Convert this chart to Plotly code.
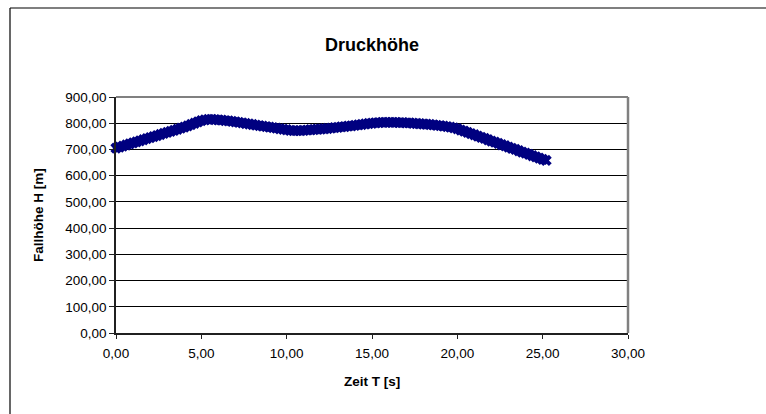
import plotly.graph_objects as go

# Fallhöhe über der Zeit, Messpunkte alle 0,2 s
zeit_s = [round(i * 0.2, 1) for i in range(127)]
fallhoehe_m = [
    705, 709, 713, 717, 721, 725, 729, 733, 737, 741,
    745, 749, 753, 757, 761, 765, 769, 773, 777, 781,
    785, 790, 795, 800, 805, 810, 813, 815, 815, 814,
    813, 812, 810, 809, 807, 805, 803, 801, 799, 797,
    795, 793, 791, 789, 787, 785, 783, 781, 779, 777,
    775, 773, 772, 772, 772, 773, 774, 775, 776, 777,
    778, 779, 780, 781, 783, 784, 786, 787, 789, 790,
    792, 794, 795, 797, 799, 800, 801, 802, 803, 803,
    803, 803, 803, 802, 802, 801, 801, 800, 799, 798,
    797, 796, 795, 794, 792, 791, 789, 787, 785, 782,
    779, 774, 770, 765, 760, 756, 751, 746, 742, 737,
    732, 728, 723, 718, 714, 709, 704, 700, 695, 690,
    686, 681, 676, 672, 667, 662, 658,
]

x_ticks = [0, 5, 10, 15, 20, 25, 30]
y_ticks = [0, 100, 200, 300, 400, 500, 600, 700, 800, 900]

FONT = "Liberation Sans, Arial, sans-serif"

fig = go.Figure()
fig.add_trace(go.Scatter(
    x=zeit_s,
    y=fallhoehe_m,
    mode="markers",
    marker=dict(symbol="x", size=10, color="#000080", line=dict(width=0)),
    showlegend=False,
    cliponaxis=False,
))

fig.update_layout(
    width=766,
    height=414,
    margin=dict(l=116, r=138, t=97, b=81),
    paper_bgcolor="white",
    plot_bgcolor="white",
    separators=",.",
    font=dict(family=FONT, size=13.5, color="black"),
    xaxis=dict(
        range=[0, 30],
        tickvals=x_ticks,
        tickformat=".2f",
        showgrid=False,
        zeroline=False,
        showline=True,
        linecolor="#202020",
        linewidth=1.5,
        ticks="outside",
        ticklen=4,
        tickcolor="#202020",
        ticklabelstandoff=3,
        tickfont=dict(size=13.5),
    ),
    yaxis=dict(
        range=[0, 900],
        tickvals=y_ticks,
        tickformat=".2f",
        showgrid=True,
        gridcolor="black",
        gridwidth=1,
        zeroline=False,
        showline=True,
        linecolor="#202020",
        linewidth=1.5,
        ticks="outside",
        ticklen=5,
        tickcolor="#202020",
        tickfont=dict(size=13.5),
    ),
    annotations=[
        dict(text="<b>Druckhöhe</b>", xref="paper", yref="paper",
             x=0.5, y=(333 - 45) / 236, xanchor="center", yanchor="middle",
             showarrow=False, font=dict(size=18, family=FONT)),
        dict(text="<b>Zeit T [s]</b>", xref="paper", yref="paper",
             x=0.5, y=(333 - 381) / 236, xanchor="center", yanchor="middle",
             showarrow=False, font=dict(size=13.5, family=FONT)),
        dict(text="<b>Fallhöhe H [m]</b>", xref="paper", yref="paper",
             x=(38 - 116) / 512, y=(333 - 215) / 236, xanchor="center",
             yanchor="middle", textangle=-90,
             showarrow=False, font=dict(size=13.5, family=FONT)),
    ],
    shapes=[
        # grauer Rahmen oben und rechts am Diagrammbereich
        dict(type="line", xref="paper", yref="paper", x0=0, x1=1, y0=1, y1=1,
             line=dict(color="#808080", width=2)),
        dict(type="line", xref="paper", yref="paper", x0=1, x1=1, y0=0, y1=1,
             line=dict(color="#808080", width=2.5)),
        # äußerer Rahmen der Diagrammfläche
        dict(type="line", xref="paper", yref="paper",
             x0=(10 - 116) / 512, x1=(10 - 116) / 512,
             y0=(333 - 420) / 236, y1=(333 - 8) / 236,
             line=dict(color="black", width=1.2)),
        dict(type="line", xref="paper", yref="paper",
             x0=(10 - 116) / 512, x1=(770 - 116) / 512,
             y0=(333 - 8) / 236, y1=(333 - 8) / 236,
             line=dict(color="black", width=1.2)),
    ],
)

fig.write_html("out.html")
